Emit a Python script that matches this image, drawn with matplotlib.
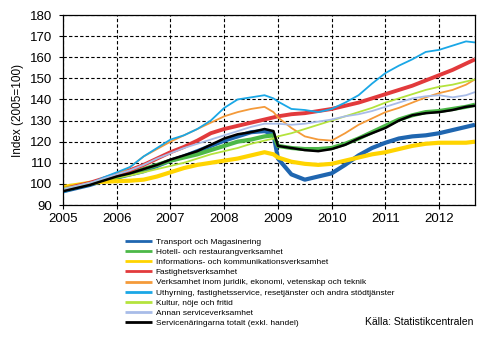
import matplotlib
matplotlib.use("Agg")
import matplotlib.pyplot as plt

plt.rcParams["font.family"] = ["Liberation Sans", "DejaVu Sans"]

# time points (year-month), quarterly plus Dec 2008 (break in the series)
months = [
    "2005-01", "2005-04", "2005-07", "2005-10",
    "2006-01", "2006-04", "2006-07", "2006-10",
    "2007-01", "2007-04", "2007-07", "2007-10",
    "2008-01", "2008-04", "2008-07", "2008-10", "2008-12",
    "2009-01", "2009-04", "2009-07", "2009-10",
    "2010-01", "2010-04", "2010-07", "2010-10",
    "2011-01", "2011-04", "2011-07", "2011-10",
    "2012-01", "2012-04", "2012-07", "2012-09",
]

transport = [96.5, 98, 99.5, 101.5, 103, 104.5, 106, 108.5, 111, 113, 115.5, 118,
             120.5, 122.5, 124.5, 125, 123.5, 112, 104.5, 102, 103.5, 105, 109, 113.5,
             117, 119.5, 121.5, 122.5, 123, 124, 125.5, 127, 128]
hotell = [97, 98.5, 100, 101.5, 103, 105, 107, 109, 111, 112.5, 114, 116,
          118, 120, 121, 122.5, 123, 118, 117, 116.5, 116.5, 117, 119, 121.5,
          124.5, 127.5, 130.5, 132.5, 134, 134.5, 135.5, 136.5, 137.5]
info = [98.5, 99.5, 100.5, 101, 101.3, 101.5, 102, 103.5, 105.5, 107.5, 109, 110,
        111, 112, 113.5, 115, 114, 112.5, 110.5, 109.5, 109, 109.5, 111, 112.5,
        114, 115, 116.5, 118, 119, 119.5, 119.5, 119.5, 120]
fastighet = [97.5, 99, 100.5, 102.5, 104.5, 106.5, 109, 112, 115, 117.5, 120.5, 124,
             126, 127.5, 129, 130.5, 131.5, 132, 133, 133.5, 134.5, 135.5, 137, 138.5,
             140.5, 142.5, 144.5, 146.5, 149, 151.5, 154, 157, 159]
juridik = [97, 98.5, 100, 102, 104.5, 108, 113, 116.5, 120, 123, 126, 129,
           132, 134, 135.5, 136.5, 134, 131.5, 126.5, 122.5, 121, 120.5, 124, 128,
           131, 134, 136, 138.5, 141, 143, 144.5, 147, 149.5]
uthyrning = [96, 98, 100, 103, 105.5, 108, 113, 117, 121, 123, 126, 130,
             136, 140, 141, 142, 140.5, 139, 135.5, 135, 134, 135.5, 138.5, 142,
             147.5, 152.5, 156, 159, 162.5, 163.5, 165.5, 167.5, 167]
kultur = [98, 99, 100.5, 102, 103, 104, 105.5, 107, 108.5, 110, 112, 114,
          115.5, 117, 119, 120.5, 121.5, 122.5, 124, 126, 128, 130, 132, 134,
          136, 138.5, 140.5, 142.5, 144.5, 146, 147, 148.5, 149.5]
annan = [97.5, 99, 100.5, 102.5, 104.5, 106.5, 109, 112, 114.5, 117, 119, 121,
         123, 125, 127, 128.5, 128.5, 128.5, 128, 128.5, 129.5, 130.5, 132, 133,
         134.5, 136.5, 138.5, 140.5, 141.5, 142, 141, 142, 143.5]
totalt = [96.5, 98, 99.5, 101.5, 103.5, 105, 107, 109, 111.5, 113.5, 115.5, 118.5,
          121.5, 123.5, 124.5, 126, 125, 118, 117, 116, 115.5, 116.5, 118.5, 121.5,
          124, 126.5, 130, 132.5, 133.5, 134, 135, 136.5, 137]

labels = [
    "Transport och Magasinering",
    "Hotell- och restaurangverksamhet",
    "Informations- och kommunikationsverksamhet",
    "Fastighetsverksamhet",
    "Verksamhet inom juridik, ekonomi, vetenskap och teknik",
    "Uthyrning, fastighetsservice, resetjänster och andra stödtjänster",
    "Kultur, nöje och fritid",
    "Annan serviceverksamhet",
    "Servicenäringarna totalt (exkl. handel)",
]
series = [transport, hotell, info, fastighet, juridik, uthyrning, kultur, annan, totalt]
colors = ["#1f66b0", "#4cb848", "#ffd400", "#e23a3c", "#f49a3a",
          "#1aa7e6", "#b4e33d", "#a8bce8", "#000000"]
widths = [3.0, 3.0, 3.0, 2.8, 1.3, 1.3, 1.3, 1.3, 1.8]

years = list(range(2005, 2013))

x = [int(m[:4]) + (int(m[5:]) - 1) / 12 for m in months]

fig = plt.figure(figsize=(4.97, 3.40), dpi=100)
ax = fig.add_axes([63 / 497, 1 - 205 / 340, 412 / 497, 190 / 340])

for vals, lab, c, w in zip(series, labels, colors, widths):
    ax.plot(x, vals, color=c, linewidth=w, label=lab, solid_capstyle="butt")

ax.set_xlim(2005, x[-1])
ax.set_ylim(90, 180)
ax.set_yticks(range(90, 181, 10))
ax.set_xticks(years)
ax.set_xticklabels([str(y) for y in years])
ax.grid(True, color="black", linestyle=(0, (3, 2)), linewidth=0.8)
ax.set_axisbelow(True)
ax.tick_params(axis="both", labelsize=9.5, length=3, color="black")
ax.tick_params(axis="y", pad=5)
ax.tick_params(axis="x", pad=3)
for s in ax.spines.values():
    s.set_linewidth(0.9)
ax.set_ylabel("Index (2005=100)", fontsize=8.5, labelpad=4)

handles, labs = ax.get_legend_handles_labels()
leg = fig.legend(handles, labs, loc="upper left", bbox_to_anchor=(125 / 497, 1 - 238 / 340),
                 frameon=False, fontsize=6, handlelength=3.3, handletextpad=0.4,
                 labelspacing=0.28, borderaxespad=0, borderpad=0)
for line in leg.get_lines():
    line.set_linewidth(2.0)

fig.text(473 / 497, 1 - 322 / 340, "Källa: Statistikcentralen", fontsize=7.5,
         ha="right", va="center")

fig.savefig("out.png", dpi=100)
